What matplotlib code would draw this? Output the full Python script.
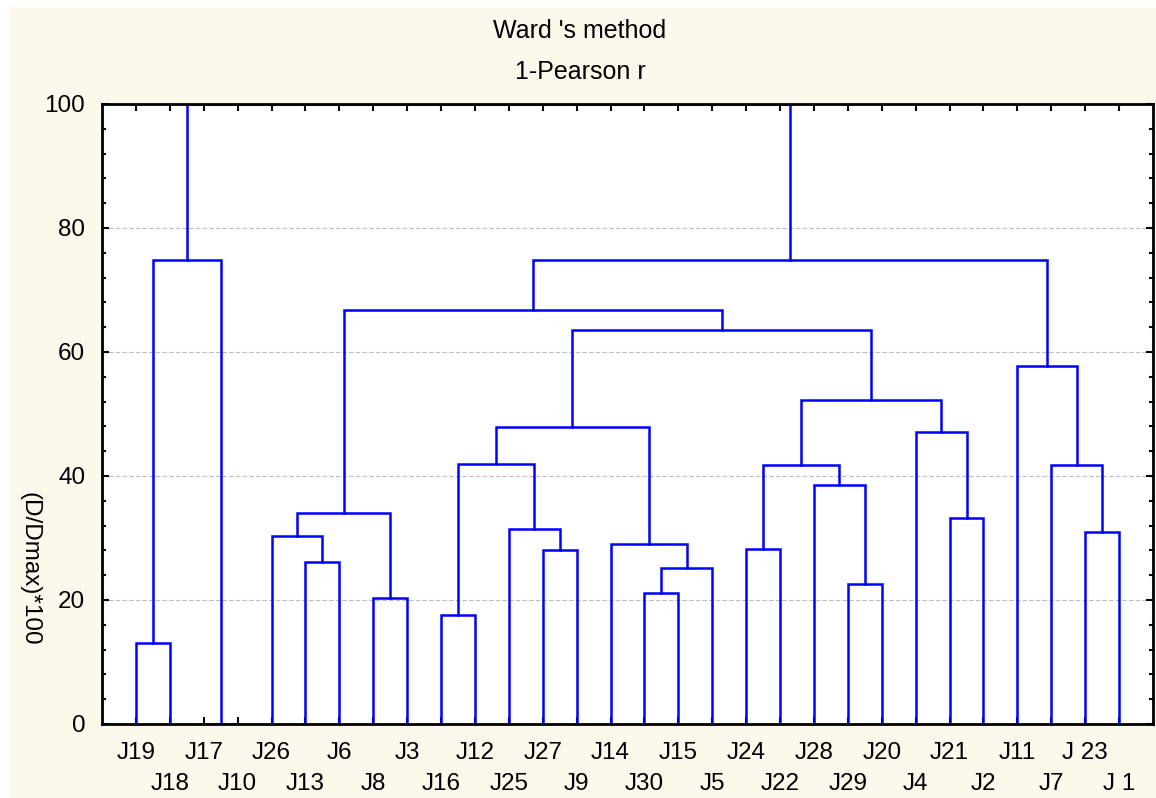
import matplotlib
matplotlib.use("Agg")
import matplotlib.pyplot as plt
from matplotlib.patches import Rectangle
from matplotlib.ticker import MultipleLocator

plt.rcParams['font.family'] = ['Liberation Sans', 'DejaVu Sans']

# leaf order along the x axis
leaves = ["J19", "J18", "J17", "J10", "J26", "J13", "J6", "J8", "J3", "J16",
          "J12", "J25", "J27", "J9", "J14", "J30", "J15", "J5", "J24", "J22",
          "J28", "J29", "J20", "J4", "J21", "J2", "J11", "J7", "J 23", "J 1"]

# linkage: (node a, node b, height); leaves are 0..29, merge k becomes node 30+k
merge_a = [0, 2, 30, 5, 4, 7, 34, 9, 12, 11, 37, 15, 41, 14, 40,
           18, 21, 20, 45, 24, 23, 48, 44, 36, 28, 27, 26, 53, 32]
merge_b = [1, 3, 31, 6, 33, 8, 35, 10, 13, 38, 39, 16, 17, 42, 43,
           19, 22, 46, 47, 25, 49, 50, 51, 52, 29, 54, 55, 56, 57]
heights = [13.0, 0.0, 74.8, 26.2, 30.3, 20.3, 34.1, 17.6, 28.0, 31.4, 41.9,
           21.1, 25.1, 29.0, 47.9, 28.3, 22.6, 38.6, 41.8, 33.2, 47.1, 52.3,
           63.6, 66.7, 30.9, 41.8, 57.8, 74.8, 100.0]

cream = "#FDF8EC"
blue = "#0000FF"

fig = plt.figure(figsize=(11.56, 7.98), dpi=100)
fig.patch.set_facecolor("white")
fig.patches.append(Rectangle((9 / 1156, 0), 1, 1 - 7 / 798, transform=fig.transFigure,
                             facecolor=cream, edgecolor="none", zorder=-10))

ax = fig.add_axes([102 / 1156, 1 - 724 / 798, (1153 - 102) / 1156, (724 - 104) / 798])
ax.set_facecolor("white")

# node positions
xpos = {i: i + 1 for i in range(len(leaves))}
ypos = {i: 0.0 for i in range(len(leaves))}
for k, (a, b, h) in enumerate(zip(merge_a, merge_b, heights)):
    xa, xb = xpos[a], xpos[b]
    ax.plot([xa, xa, xb, xb], [ypos[a], h, h, ypos[b]], color=blue, lw=1.8,
            solid_joinstyle="miter", zorder=2)
    xpos[len(leaves) + k] = (xa + xb) / 2
    ypos[len(leaves) + k] = h

ax.set_xlim(0, 31)
ax.set_ylim(0, 100)

# labels alternate between two rows
ax.set_xticks(range(1, 31, 2))
ax.set_xticklabels(leaves[0::2])
ax.set_xticks(range(2, 31, 2), minor=True)
ax.set_xticklabels(leaves[1::2], minor=True)
ax.tick_params(axis="x", which="major", direction="in", length=5, width=1.5,
               top=True, pad=13, labelsize=17.5)
ax.tick_params(axis="x", which="minor", direction="in", length=5, width=1.5,
               top=True, pad=35, labelsize=17.5)

ax.set_yticks([0, 20, 40, 60, 80, 100])
ax.yaxis.set_minor_locator(MultipleLocator(4))
ax.tick_params(axis="y", which="major", direction="in", length=5, width=1.5,
               right=True, pad=12, labelsize=17.5)
ax.tick_params(axis="y", which="minor", direction="in", length=3, width=1.5,
               right=True)

ax.grid(axis="y", which="major", color="#BDBDBD", linestyle=(0, (4, 2)), lw=0.8)
ax.set_axisbelow(True)
for s in ax.spines.values():
    s.set_linewidth(2)
    s.set_color("black")
    s.set_zorder(3)

ax.set_ylabel("(D/Dmax)*100", fontsize=17.5, rotation=-90, va="center")
ax.yaxis.set_label_coords(-0.069, 0.25)

fig.text(580 / 1156, 1 - 31 / 798, "Ward 's method", ha="center", va="center", fontsize=18)
fig.text(580 / 1156, 1 - 72 / 798, "1-Pearson r", ha="center", va="center", fontsize=18)

fig.savefig("out.png", dpi=100, facecolor=fig.get_facecolor())
